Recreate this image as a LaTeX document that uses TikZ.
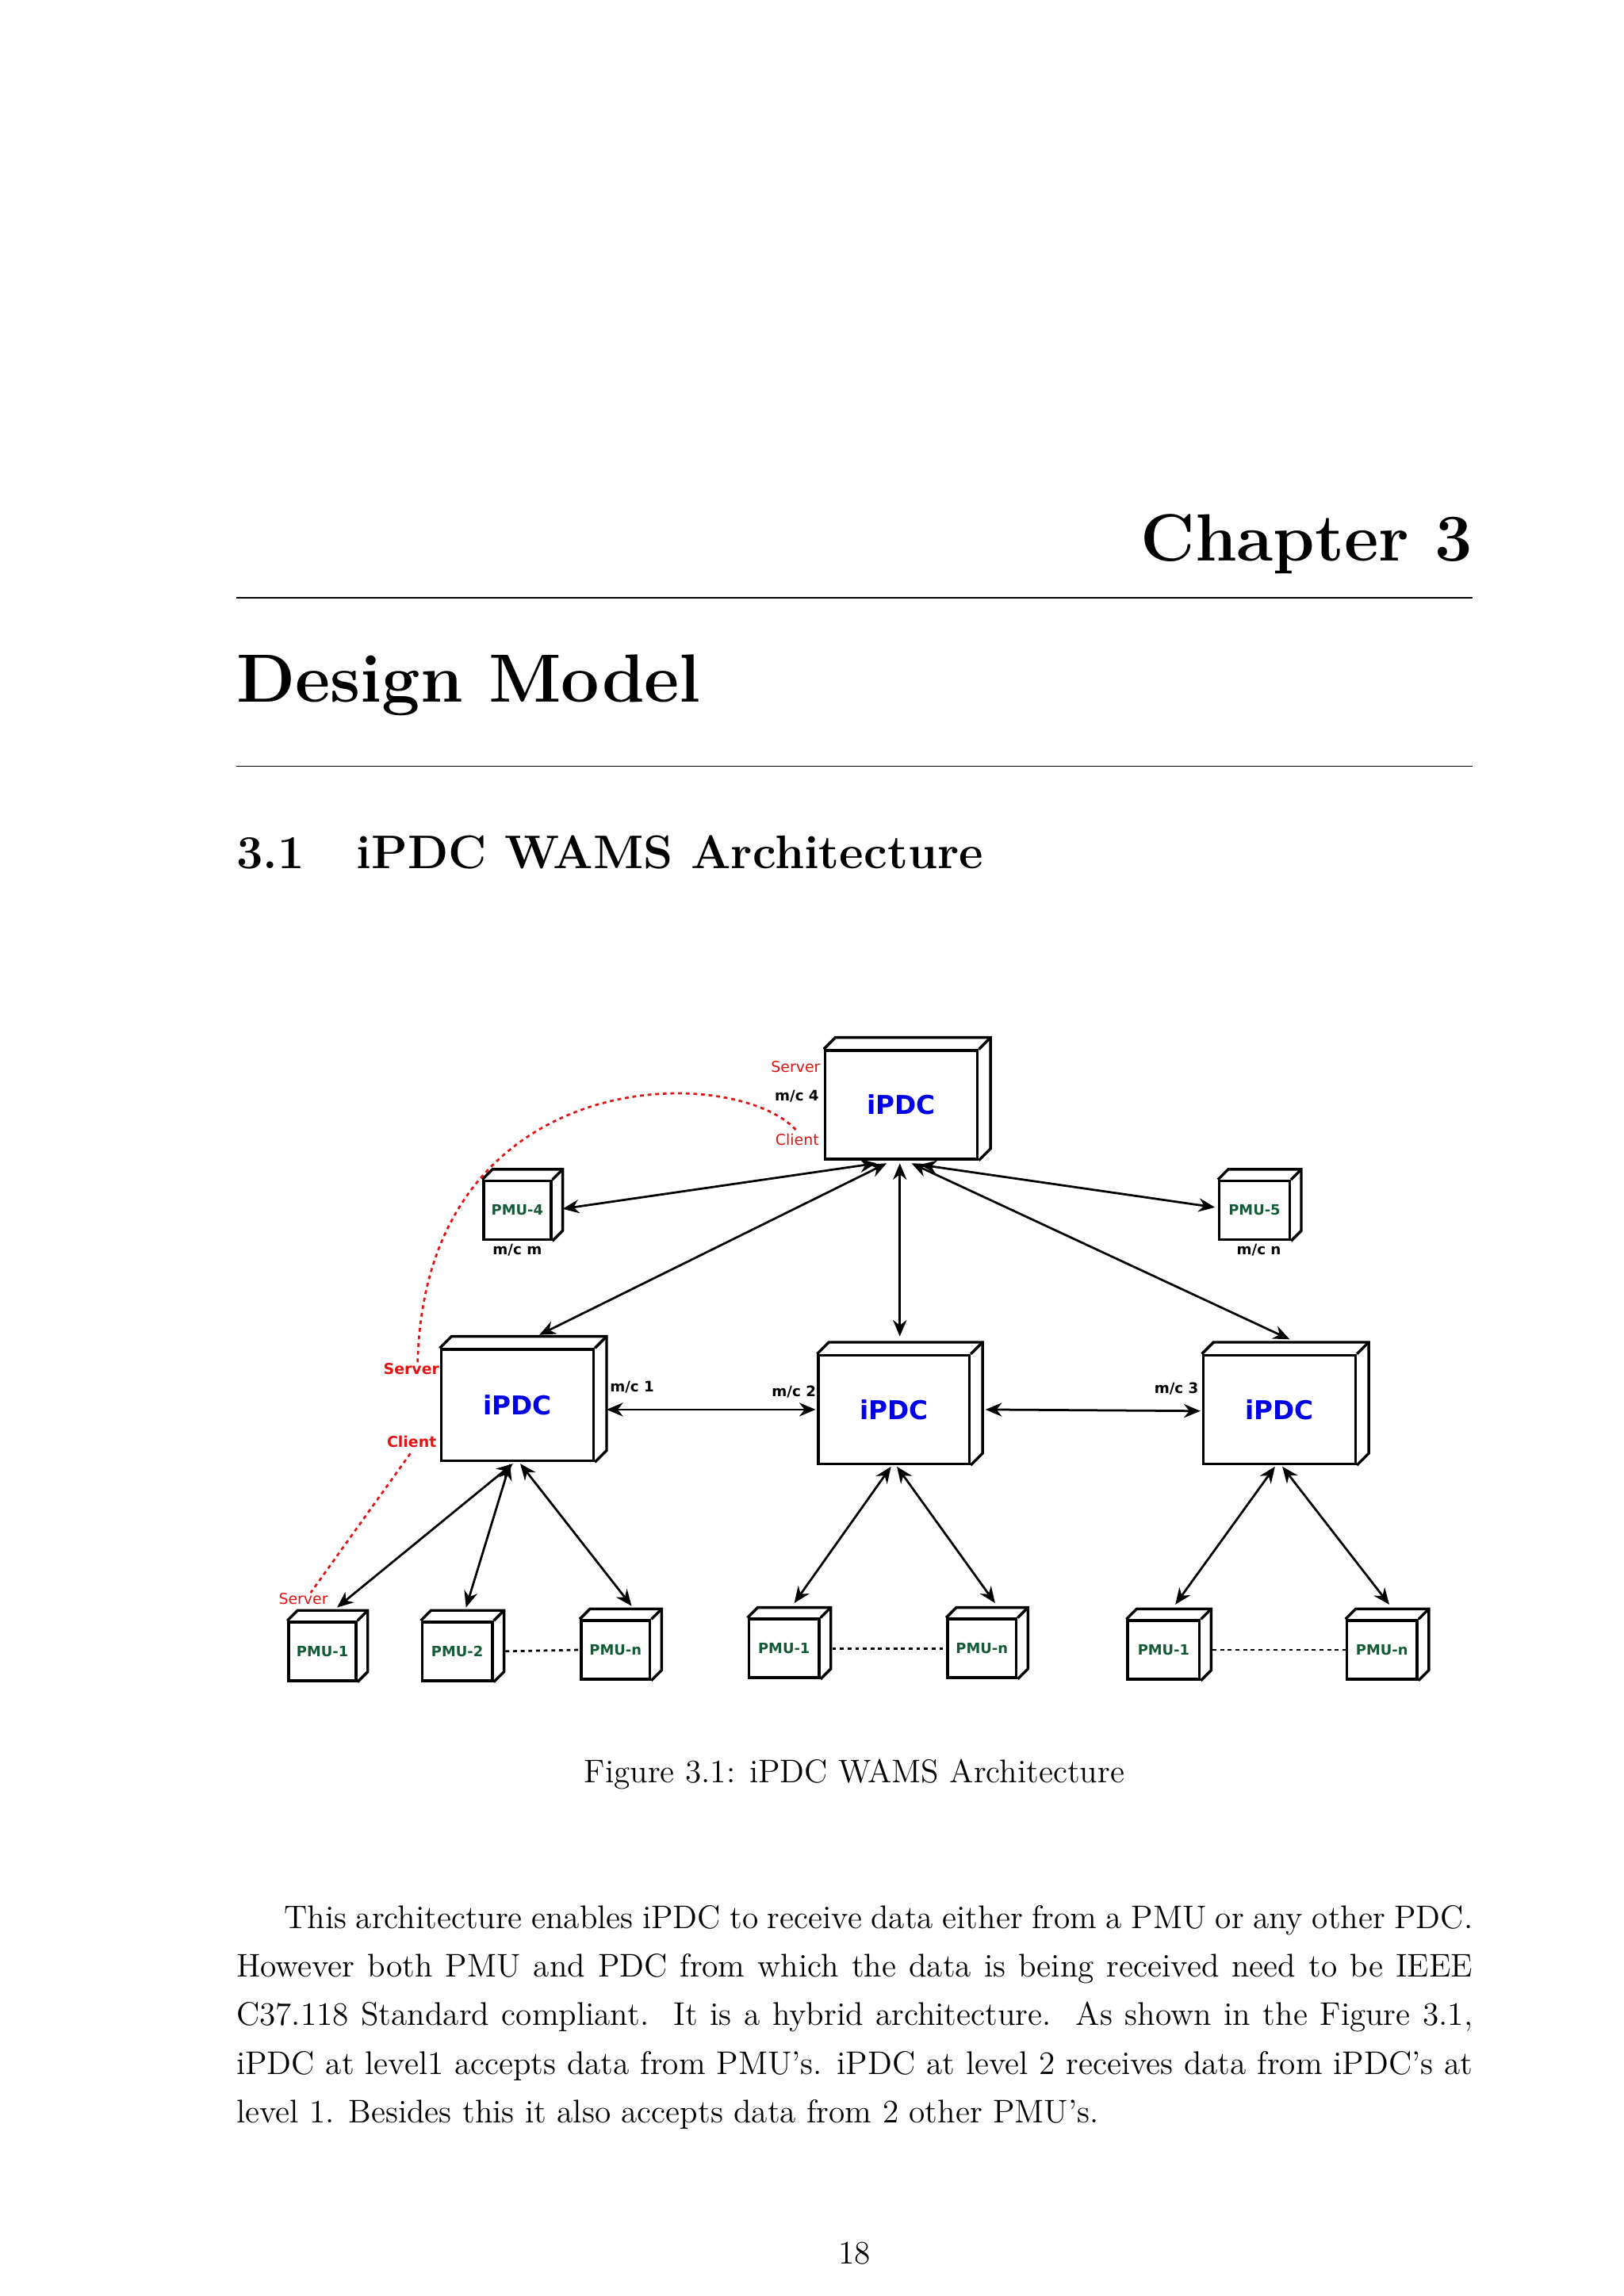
\documentclass[tikz,border=0pt]{standalone}
\usepackage{fontspec}
\newfontfamily\dv{DejaVu Sans}
\usetikzlibrary{arrows.meta,calc}
\definecolor{pmug}{RGB}{20,90,55}
\definecolor{ipb}{RGB}{0,0,230}
\definecolor{srv}{RGB}{225,20,20}
\newcommand{\cube}[6]{%
  \node[box,minimum width=#4*0.537pt,minimum height=#5*0.537pt] (#1) at (#2,#3) {};
  \draw[boxl] (#1.north west) -- ++(#6,-#6) -- ($(#1.north east)+(#6,-#6)$) -- ($(#1.south east)+(#6,-#6)$) -- (#1.south east);
  \draw[boxl] (#1.north east) -- ++(#6,-#6);}
\begin{document}
\begin{tikzpicture}[x=0.537pt,y=-0.537pt,
  box/.style={draw,line width=1pt,inner sep=0pt,fill=white},
  boxl/.style={line width=1pt,line join=miter},
  ipdc/.style={font=\dv\bfseries\fontsize{9.5}{10}\selectfont,text=ipb},
  pmu/.style={font=\dv\bfseries\fontsize{5.2}{6}\selectfont,text=pmug},
  mc/.style={font=\dv\bfseries\fontsize{5.3}{6}\selectfont},
  red/.style={font=\dv\fontsize{5.5}{6}\selectfont,text=srv},
  redb/.style={font=\dv\bfseries\fontsize{5.5}{6}\selectfont,text=srv},
  ar/.style={{Stealth[length=6pt,width=5pt]}-{Stealth[length=6pt,width=5pt]},line width=0.8pt},
  dl/.style={dash pattern=on 1.4pt off 1.4pt,line width=0.8pt},
  rd/.style={dash pattern=on 1.4pt off 1.4pt,draw=srv,line width=0.8pt}]
\useasboundingbox (0,0) rectangle (1108,1567);
\fill[white] (0,0) rectangle (1108,1567);
% headings
\node[anchor=base east,inner sep=0pt,font=\bfseries\fontsize{24.5}{30}\selectfont] (chap) at (1005,383) {Chapter 3};
\coordinate (r1a) at (161,408); \coordinate (r1b) at (1005,408);
\draw[line width=0.4pt] (r1a) -- (r1b);
\node[anchor=base west,inner sep=0pt,font=\bfseries\fontsize{25}{30}\selectfont] (title) at (161,479) {Design Model};
\coordinate (r2a) at (161,523); \coordinate (r2b) at (1005,523);
\draw[line width=0.4pt] (r2a) -- (r2b);
\node[anchor=base west,inner sep=0pt,font=\bfseries\fontsize{17.28}{20}\selectfont] (secn) at (161,593) {3.1};
\node[anchor=base west,inner sep=0pt,font=\bfseries\fontsize{17.28}{20}\selectfont] (sect) at (243,593) {iPDC WAMS Architecture};
% diagram cubes
\cube{T}{615}{754}{104}{74}{8}
\node[ipdc] at (T) {iPDC};
\cube{P4}{353}{826}{46}{40}{7}
\node[pmu] at (P4) {PMU-4};
\cube{P5}{856}{826}{48}{40}{7}
\node[pmu] at (P5) {PMU-5};
\cube{L}{353}{959}{104}{76}{8}
\node[ipdc] at (L) {iPDC};
\cube{M}{610}{962}{103}{74}{8}
\node[ipdc] at (M) {iPDC};
\cube{R}{873}{962}{104}{74}{8}
\node[ipdc] at (R) {iPDC};
\cube{a1}{220}{1127}{46}{40}{7}\node[pmu] at (a1) {PMU-1};
\cube{a2}{312}{1127}{48}{40}{7}\node[pmu] at (a2) {PMU-2};
\cube{an}{420}{1126}{47}{40}{7}\node[pmu] at (an) {PMU-n};
\cube{b1}{535}{1125}{48}{40}{7}\node[pmu] at (b1) {PMU-1};
\cube{bn}{670}{1125}{47}{40}{7}\node[pmu] at (bn) {PMU-n};
\cube{c1}{794}{1126}{49}{40}{7}\node[pmu] at (c1) {PMU-1};
\cube{cn}{943}{1126}{48}{40}{7}\node[pmu] at (cn) {PMU-n};
% labels
\node[red,anchor=east,inner sep=1pt] (s4) at (562,728) {Server};
\node[mc,anchor=east,inner sep=1pt] (m4) at (561,748) {m/c 4};
\node[red,anchor=east,inner sep=1pt] (c4) at (561,778) {Client};
\node[mc] (mm) at (353,853) {m/c m};
\node[mc] (mn) at (859,853) {m/c n};
\node[redb,anchor=east,inner sep=1pt] (sL) at (302,934) {Server};
\node[redb,anchor=east,inner sep=1pt] (cL) at (300,984) {Client};
\node[mc,anchor=west,inner sep=1pt] (m1) at (414,947) {m/c 1};
\node[mc,anchor=east,inner sep=1pt] (m2) at (559,950) {m/c 2};
\node[mc,anchor=east,inner sep=1pt] (m3) at (820,948) {m/c 3};
\node[red] (sa) at (207,1091) {Server};
% arrows
\draw[ar] ($(T.south)+(-17,2)$) -- ($(P4.east)+(7,-1)$);
\draw[ar] ($(T.south)+(-10,2)$) -- ($(L.north)+(15,-9)$);
\draw[ar] ($(T.south)+(-1,2)$) -- ($(M.north)+(4,-12)$);
\draw[ar] ($(T.south)+(7,2)$) -- ($(R.north)+(7,-10)$);
\draw[ar] ($(T.south)+(13,3)$) -- ($(P5.west)+(-2,-2)$);
\draw[ar] ($(L.east)+(8,3)$) -- ($(M.west)+(-1,0)$);
\draw[ar] ($(M.east)+(10,0)$) -- ($(R.west)+(-1,1)$);
\draw[ar] ($(L.south)+(-3,1)$) -- ($(a1.north)+(10,-9)$);
\draw[ar] ($(L.south)+(-5,1)$) -- ($(a2.north)+(6,-9)$);
\draw[ar] ($(L.south)+(2,1)$) -- ($(an.north)+(11,-9)$);
\draw[ar] ($(M.south)+(-2,1)$) -- ($(b1.north)+(7,-10)$);
\draw[ar] ($(M.south)+(2,1)$) -- ($(bn.north)+(9,-10)$);
\draw[ar] ($(R.south)+(-3,1)$) -- ($(c1.north)+(8,-10)$);
\draw[ar] ($(R.south)+(2,1)$) -- ($(cn.north)+(5,-10)$);
\draw[dl] ($(a2.east)+(8,0)$) -- (an.west);
\draw[dl] ($(b1.east)+(8,0)$) -- (bn.west);
\draw[dl] ($(c1.east)+(8,0)$) -- (cn.west);
% red dotted
\coordinate (rc1) at (543,771);
\coordinate (rc2) at (285,930);
\draw[rd] (rc1) .. controls (500,725) and (290,725) .. (rc2);
\coordinate (rd1) at (280,992);
\coordinate (rd2) at (212,1087);
\draw[rd] (rd1) -- (rd2);
% caption and text
\node[font=\fontsize{12}{14}\selectfont] (cap) at (583,1211) {Figure 3.1: iPDC WAMS Architecture};
\node[anchor=north west,inner sep=0pt,text width=453pt,align=justify,font=\fontsize{12}{17.8}\selectfont] (para) at (161,1300) {\parindent=17.5pt\indent This architecture enables iPDC to receive data either from a PMU or any other PDC. However both PMU and PDC from which the data is being received need to be IEEE C37.118 Standard compliant.\ \ It is a hybrid architecture.\ \ As shown in the Figure 3.1, iPDC at level1 accepts data from PMU's. iPDC at level 2 receives data from iPDC's at level 1. Besides this it also accepts data from 2 other PMU's.};
\node[font=\fontsize{12}{14}\selectfont] (pg) at (583,1538) {18};
\end{tikzpicture}
\end{document}
